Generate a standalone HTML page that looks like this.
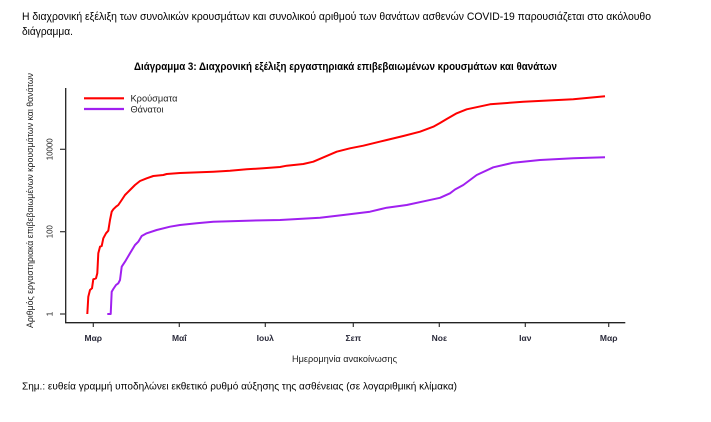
<!DOCTYPE html>
<html>
<head>
<meta charset="utf-8">
<style>
  html, body { margin: 0; padding: 0; background: #ffffff; }
  svg { display: block; }
  text { font-family: "Liberation Sans", "DejaVu Sans", sans-serif; }
</style>
</head>
<body>
<svg width="711" height="422" viewBox="0 0 711 422" xmlns="http://www.w3.org/2000/svg">
  <rect x="0" y="0" width="711" height="422" fill="#ffffff"/>

  <!-- Intro paragraph -->
  <text x="22" y="20" font-size="11" fill="#000" textLength="629" lengthAdjust="spacingAndGlyphs">Η διαχρονική εξέλιξη των συνολικών κρουσμάτων και συνολικού αριθμού των θανάτων ασθενών COVID-19 παρουσιάζεται στο ακόλουθο</text>
  <text x="22" y="35" font-size="11" fill="#000" textLength="51" lengthAdjust="spacingAndGlyphs">διάγραμμα.</text>

  <!-- Title -->
  <text x="134" y="70" font-size="11" font-weight="bold" fill="#000" textLength="423" lengthAdjust="spacingAndGlyphs">Διάγραμμα 3: Διαχρονική εξέλιξη εργαστηριακά επιβεβαιωμένων κρουσμάτων και θανάτων</text>

  <!-- Y axis title -->
  <text transform="translate(33,200.5) rotate(-90)" text-anchor="middle" font-size="9.5" fill="#222" textLength="255" lengthAdjust="spacingAndGlyphs">Αριθμός εργαστηριακά επιβεβαιωμένων κρουσμάτων και θανάτων</text>

  <!-- Axes -->
  <line x1="65.7" y1="88" x2="65.7" y2="322.7" stroke="#222" stroke-width="1.3"/>
  <line x1="65" y1="322.7" x2="625.3" y2="322.7" stroke="#222" stroke-width="1.3"/>

  <!-- Y ticks -->
  <g stroke="#333" stroke-width="1.2">
    <line x1="60" y1="314" x2="66" y2="314"/>
    <line x1="60" y1="231.7" x2="66" y2="231.7"/>
    <line x1="60" y1="149.3" x2="66" y2="149.3"/>
  </g>
  <g font-size="8.5" fill="#222">
    <text transform="translate(52.5,314) rotate(-90)" text-anchor="middle">1</text>
    <text transform="translate(52.5,231.7) rotate(-90)" text-anchor="middle" textLength="13" lengthAdjust="spacingAndGlyphs">100</text>
    <text transform="translate(52.5,149.3) rotate(-90)" text-anchor="middle" textLength="22" lengthAdjust="spacingAndGlyphs">10000</text>
  </g>

  <!-- X ticks -->
  <g stroke="#333" stroke-width="1.2">
    <line x1="93.3" y1="322.7" x2="93.3" y2="327"/>
    <line x1="179.3" y1="322.7" x2="179.3" y2="327"/>
    <line x1="265.3" y1="322.7" x2="265.3" y2="327"/>
    <line x1="353.3" y1="322.7" x2="353.3" y2="327"/>
    <line x1="439.3" y1="322.7" x2="439.3" y2="327"/>
    <line x1="525.3" y1="322.7" x2="525.3" y2="327"/>
    <line x1="608.7" y1="322.7" x2="608.7" y2="327"/>
  </g>
  <g font-size="8.5" font-weight="bold" fill="#2a2a3a" text-anchor="middle">
    <text x="93.3" y="341">Μαρ</text>
    <text x="179.3" y="341">Μαΐ</text>
    <text x="265.3" y="341">Ιουλ</text>
    <text x="353.3" y="341">Σεπ</text>
    <text x="439.3" y="341">Νοε</text>
    <text x="525.3" y="341">Ιαν</text>
    <text x="608.7" y="341">Μαρ</text>
  </g>

  <!-- X axis title -->
  <text x="292" y="362" font-size="9.5" fill="#222" textLength="105" lengthAdjust="spacingAndGlyphs">Ημερομηνία ανακοίνωσης</text>

  <!-- Legend -->
  <line x1="84" y1="98.3" x2="124" y2="98.3" stroke="#ff0000" stroke-width="2.2"/>
  <line x1="84" y1="109" x2="124" y2="109" stroke="#a020f0" stroke-width="2.2"/>
  <text x="130.5" y="101.5" font-size="9" fill="#222" textLength="47" lengthAdjust="spacingAndGlyphs">Κρούσματα</text>
  <text x="130.5" y="112.3" font-size="9" fill="#222" textLength="33" lengthAdjust="spacingAndGlyphs">Θάνατοι</text>

  <!-- Cases (red) -->
  <polyline fill="none" stroke="#ff0000" stroke-width="2" stroke-linejoin="round" points="
    87.3,314 88.3,296.7 90,290 92,288.3 93.3,279.3 96,278.3 97.3,273.3 98.3,253.3
    100,246.7 101.7,246 103.3,238.3 106,233.3 108.3,230.7 110,220 111.7,211.7 113.3,209.3
    116,206.7 118.3,205 121.7,200 125,195 130,190 135,185 140,181 146.7,178.3
    153.3,176 163.3,175 166.7,174 180,173 213.3,171.7 230,170.7 246.7,169.3 263.3,168.3
    280,167 286.7,165.7 303.3,164 313.3,161.7 336.7,151.7 350,148.3 363.3,145.7
    386.7,140 403.3,136 420,131.7 433.3,126.7 440,123 446.7,119 456.7,113.3
    466.7,109.3 490,104.3 523.3,101.7 573.3,99.3 605,96.3"/>

  <!-- Deaths (purple) -->
  <polyline fill="none" stroke="#a020f0" stroke-width="2" stroke-linejoin="round" points="
    107.3,314 110.7,314 111.7,291.7 113.3,289 116,285 118.3,283.3 120,280 121.7,266.7
    125,261.7 130,253.3 135,245 138.3,241.7 141.7,236 146.7,233.3 156.7,230 170,226.7
    180,225 196.7,223.3 213.3,221.7 246.7,220.7 280,220 320,217.7 343.3,215 370,211.7
    386.7,207.7 406.7,205 426.7,200.7 440,197.8 450,193.3 455,189.5 463.3,185 470,180
    476.7,175 493.3,167.3 513.3,162.7 540,160 573.3,158.3 605,157.3"/>

  <!-- Note -->
  <text x="22" y="389.5" font-size="10.5" fill="#000" textLength="435" lengthAdjust="spacingAndGlyphs">Σημ.: ευθεία γραμμή υποδηλώνει εκθετικό ρυθμό αύξησης της ασθένειας (σε λογαριθμική κλίμακα)</text>
</svg>
</body>
</html>
